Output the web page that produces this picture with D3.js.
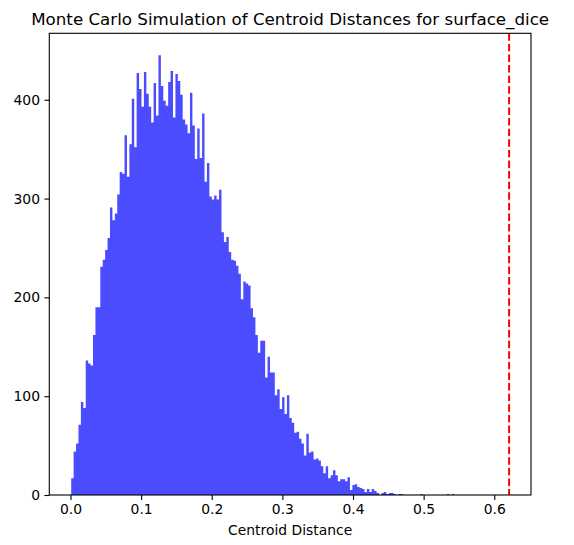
<!DOCTYPE html>
<html>
<head>
<meta charset="utf-8">
<script src="https://cdn.jsdelivr.net/npm/d3@7"></script>
<style>
  body { margin: 0; background: #fff; }
  svg text { font-family: "DejaVu Sans", sans-serif; fill: #000; }
</style>
</head>
<body>
<div id="chart"></div>
<script>
// histogram of simulated centroid distances (counts)
const binStart = 0.001;
const binWidth = 0.003432;
const counts = [
  17, 44, 52, 71, 94, 88, 136, 133, 131, 162, 190, 190, 231, 238, 248, 260, 291, 278, 285, 304, 327,
  325, 364, 322, 355, 401, 352, 427, 411, 393, 428, 406, 393, 377, 417, 384, 445, 414, 399, 394, 418, 429, 382, 426, 419,
  405, 380, 375, 366, 407, 374, 340, 371, 341, 386, 317, 336, 302, 299, 303, 299, 309, 266, 256, 261, 246, 238, 237, 232,
  224, 198, 216, 214, 212, 189, 180, 162, 144, 156, 156, 119, 140, 124, 124, 101, 107, 87, 99, 82, 101, 78, 73, 63,
  64, 57, 52, 40, 62, 43, 44, 36, 37, 35, 29, 22, 29, 17, 20, 25, 20, 14, 16, 16, 14, 18, 5, 10,
  11, 8, 7, 6, 3, 6, 3, 6, 4, 2, 0, 2, 3, 1, 2, 2, 1, 0, 1, 1,
  0, 0, 0, 0, 0, 0, 0, 1, 0, 0, 0, 0, 0, 0, 0, 0, 0, 0, 1, 0, 1
];
const observed = 0.621;   // red dashed line
const xTicks = [0.0, 0.1, 0.2, 0.3, 0.4, 0.5, 0.6];
const yTicks = [0, 100, 200, 300, 400];
const title = "Monte Carlo Simulation of Centroid Distances for surface_dice";
const xLabel = "Centroid Distance";

const width = 574, height = 545;
const margin = { top: 33.3, right: 43, bottom: 50, left: 49.3 };

const bins = counts.map((c, i) => ({ x0: binStart + i * binWidth, x1: binStart + (i + 1) * binWidth, count: c }));

const svg = d3.select("#chart").append("svg")
    .attr("width", width)
    .attr("height", height);

svg.append("rect").attr("width", width).attr("height", height).attr("fill", "#fff");

// matplotlib style 5% margins
const xMin = binStart, xMax = observed;
const pad = 0.05 * (xMax - xMin);
const x = d3.scaleLinear()
    .domain([xMin - pad, xMax + pad])
    .range([margin.left, width - margin.right]);
const y = d3.scaleLinear()
    .domain([0, d3.max(counts) * 1.05])
    .range([height - margin.bottom, margin.top]);

// bars as one stepped area so neighbouring bins leave no seams
const steps = bins.map(d => ({ x: d.x0, count: d.count }));
steps.push({ x: bins[bins.length - 1].x1, count: 0 });

const area = d3.area()
    .curve(d3.curveStepAfter)
    .x(d => x(d.x))
    .y0(y(0))
    .y1(d => y(d.count));

svg.append("path")
    .datum(steps)
    .attr("d", area)
    .attr("fill", "#0000ff")
    .attr("fill-opacity", 0.7);

// red dashed line
svg.append("line")
    .attr("x1", x(observed)).attr("x2", x(observed))
    .attr("y1", y.range()[1]).attr("y2", y.range()[0])
    .attr("stroke", "red")
    .attr("stroke-width", 2)
    .attr("stroke-dasharray", "7.4,3.2");

// axes
const xAxis = svg.append("g")
    .attr("transform", `translate(0,${height - margin.bottom})`)
    .call(d3.axisBottom(x).tickValues(xTicks).tickFormat(d3.format(".1f")).tickSize(4.9).tickPadding(4.4));
const yAxis = svg.append("g")
    .attr("transform", `translate(${margin.left},0)`)
    .call(d3.axisLeft(y).tickValues(yTicks).tickFormat(d3.format("d")).tickSize(4.9).tickPadding(4.4));

[xAxis, yAxis].forEach(g => {
    g.select(".domain").remove();
    g.selectAll(".tick line").attr("stroke", "#000").attr("stroke-width", 1.1);
    g.selectAll(".tick text").style("font-size", "13.9px").attr("fill", "#000");
});

// frame
svg.append("rect")
    .attr("x", margin.left)
    .attr("y", margin.top)
    .attr("width", width - margin.right - margin.left)
    .attr("height", height - margin.bottom - margin.top)
    .attr("fill", "none")
    .attr("stroke", "#000")
    .attr("stroke-width", 1.1);

svg.append("text")
    .attr("x", (margin.left + width - margin.right) / 2)
    .attr("y", 25)
    .attr("text-anchor", "middle")
    .style("font-size", "16.7px")
    .text(title);

svg.append("text")
    .attr("x", (margin.left + width - margin.right) / 2)
    .attr("y", 535)
    .attr("text-anchor", "middle")
    .style("font-size", "13.9px")
    .text(xLabel);
</script>
</body>
</html>
